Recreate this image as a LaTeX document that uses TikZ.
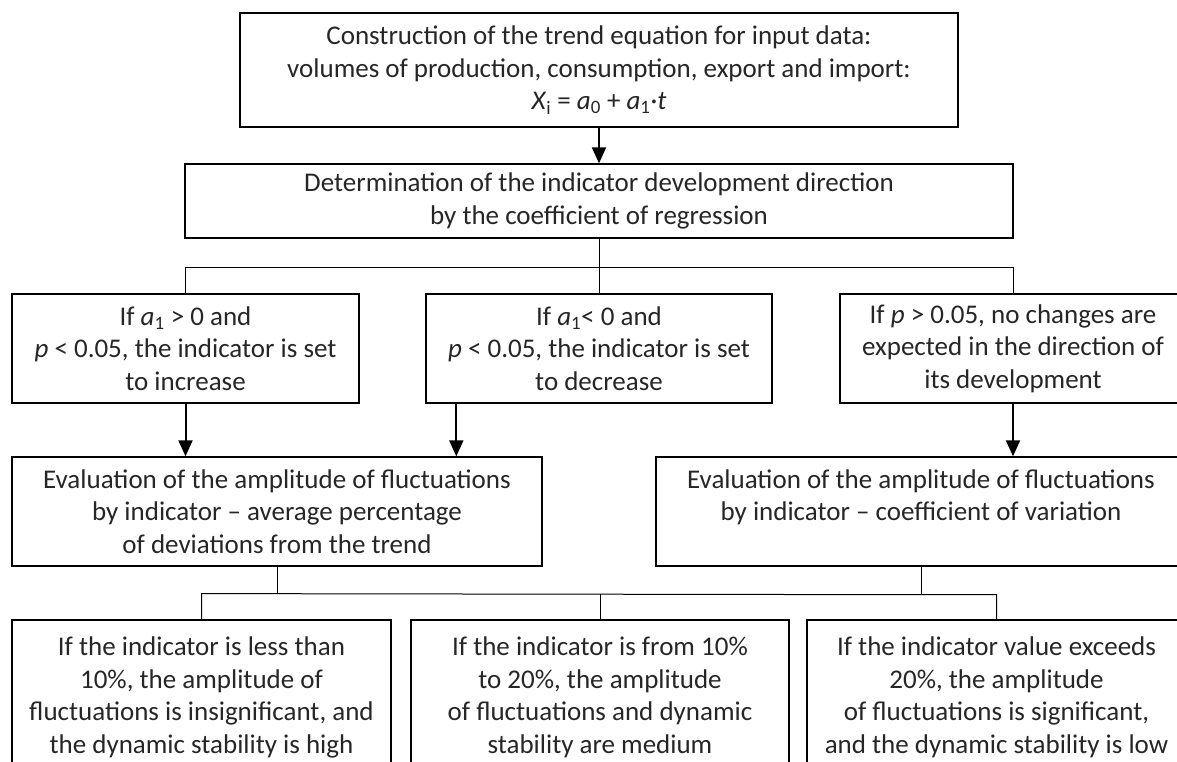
\documentclass[tikz,border=0pt]{standalone}
\usepackage{fontspec}
\setmainfont{Carlito}
\usetikzlibrary{arrows.meta}

\begin{document}
\begin{tikzpicture}[x=1pt, y=-1pt,
  box/.style={draw, line width=1.4pt, align=center, inner sep=0pt, text=black!85,
    font=\fontsize{27}{32.5}\selectfont},
  link/.style={line width=1pt},
  arr/.style={line width=2pt, -{Triangle[length=16pt,width=14pt]}}]
  \useasboundingbox (0,0) rectangle (1177,761);
  \node[box, minimum width=718pt, minimum height=114pt] (trend) at (599,70)
    {Construction of the trend equation for input data:\\
     volumes of production, consumption, export and import:\\
     \textit{X}\textsubscript{i} = \textit{a}\textsubscript{0} + \textit{a}\textsubscript{1}·\textit{t}};
  \node[box, minimum width=828pt, minimum height=74pt] (dir) at (599,201)
    {Determination of the indicator development direction\\ by the coefficient of regression};
  \node[box, minimum width=347pt, minimum height=109pt] (incr) at (185.5,348.5)
    {If \textit{a}\textsubscript{1} > 0 and\\ \textit{p} < 0.05, the indicator is set\\ to increase};
  \node[box, minimum width=346pt, minimum height=109pt] (decr) at (599,348.5)
    {If \textit{a}\textsubscript{1}< 0 and\\ \textit{p} < 0.05, the indicator is set\\ to decrease};
  \node[box, minimum width=346pt, minimum height=109pt] (nochg) at (1013,348.5)
    {If \textit{p} > 0.05, no changes are\\ expected in the direction of\\ its development};
  \node[box, minimum width=530pt, minimum height=109pt] (devi) at (277,511.5)
    {Evaluation of the amplitude of fluctuations\\ by indicator – average percentage\\ of deviations from the trend};
  \node[box, minimum width=530pt, minimum height=109pt] (vari) at (921,511.5)
    {Evaluation of the amplitude of fluctuations\\ by indicator – coefficient of variation\\ \mbox{}};
  \node[box, minimum width=379pt, minimum height=155pt] (low) at (201.5,697.5)
    {If the indicator is less than\\ 10\%, the amplitude of\\ fluctuations is insignificant, and\\ the dynamic stability is high};
  \node[box, minimum width=378pt, minimum height=155pt] (med) at (600,697.5)
    {If the indicator is from 10\%\\ to 20\%, the amplitude\\ of fluctuations and dynamic\\ stability are medium};
  \node[box, minimum width=379pt, minimum height=155pt] (high) at (996.5,697.5)
    {If the indicator value exceeds\\ 20\%, the amplitude\\ of fluctuations is significant,\\ and the dynamic stability is low};
  \draw[arr] (trend) -- (dir);
  \draw[link] (dir.south) -- ++(0,29) coordinate (f1);
  \draw[link] (incr.north) |- (f1) -| (nochg.north);
  \draw[link] (f1) -- (decr.north);
  \coordinate (decrout) at ([xshift=31pt]decr.south west);
  \draw[arr] (incr.south) -- (incr.south |- devi.north);
  \draw[arr] (decrout) -- (decrout |- devi.north);
  \draw[arr] (nochg.south) -- (nochg.south |- vari.north);
  \draw[link] (devi.south) -- ++(0,27) coordinate (f2);
  \draw[link] (vari.south) -- ++(0,28) coordinate (f3);
  \draw[link] (low.north) |- (f2) -- (f3) -| (high.north);
  \draw[link] (med.north) -- (med.north |- f2);
\end{tikzpicture}
\end{document}
